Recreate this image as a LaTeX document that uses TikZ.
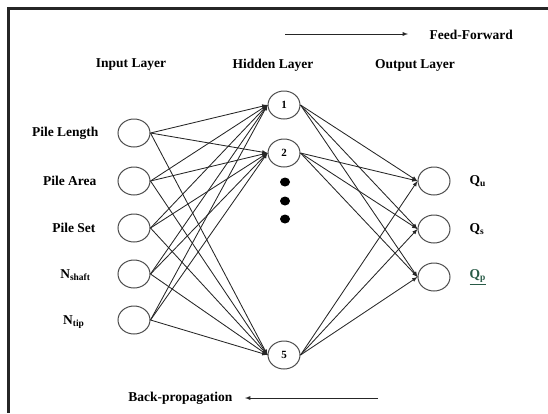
\documentclass[tikz,border=0pt]{standalone}
\usepackage{fontspec}
\setmainfont{Liberation Serif}
\usetikzlibrary{arrows,positioning,shapes.geometric}
\definecolor{qpgreen}{RGB}{40,90,70}

\begin{document}
\begin{tikzpicture}[
    x=1pt, y=-1pt, font=\fontsize{13.5}{15}\selectfont\bfseries,
    unit/.style={ellipse, draw=black!70, line width=1pt,
      minimum width=32pt, minimum height=28pt, inner sep=0pt},
    dot/.style={ellipse, fill=black, minimum width=10pt,
      minimum height=9pt, inner sep=0pt},
    link/.style={-latex, draw=black!85, line width=0.85pt}]

    \useasboundingbox (0,0) rectangle (548,413);

    % frame
    \draw[line width=3pt, black!85] (548,8) -- (8,8) -- (8,413);

    % layer titles
    \node (ti) at (131,65) {Input Layer};
    \node (th) at (273,65) {Hidden Layer};
    \node (to) at (415,65) {Output Layer};

    % vertices

    \node[unit] (10) at (134,133) {};
    \node[unit] (11) at (134,181) {};
    \node[unit] (12) at (134,228) {};
    \node[unit] (13) at (134,274) {};
    \node[unit] (14) at (134,320) {};

    \node[anchor=east] (l10) at (102,133) {Pile Length};
    \node[anchor=east] (l11) at (100,181) {Pile Area};
    \node[anchor=east] (l12) at (99,228) {Pile Set};
    \node[anchor=east] (l13) at (94,275) {N\textsubscript{shaft}};
    \node[anchor=east] (l14) at (88,322) {N\textsubscript{tip}};

    \node[unit, font=\fontsize{11}{13}\selectfont\bfseries] (20) at (284,105) {1};
    \node[unit, font=\fontsize{11}{13}\selectfont\bfseries] (21) at (284,153) {2};
    \node[unit, font=\fontsize{11}{13}\selectfont\bfseries] (25) at (284,355) {5};

    \node[dot] (d1) at (285,182) {};
    \node[dot] (d2) at (285,201) {};
    \node[dot] (d3) at (285,219) {};

    \node[unit] (30) at (434,181) {};
    \node[unit] (31) at (434,229) {};
    \node[unit] (32) at (434,277) {};

    \node[anchor=west] (l30) at (466,181) {Q\textsubscript{u}};
    \node[anchor=west] (l31) at (466,229) {Q\textsubscript{s}};
    \node[anchor=west, text=qpgreen] (l32) at (466,277) {\underline{Q\textsubscript{p}}};

    % edges

    \draw[link] (10.east) to (20.west);
    \draw[link] (10.east) to (21.west);
    \draw[link] (10.east) to (25.west);
    \draw[link] (11.east) to (20.west);
    \draw[link] (11.east) to (21.west);
    \draw[link] (11.east) to (25.west);
    \draw[link] (12.east) to (20.west);
    \draw[link] (12.east) to (21.west);
    \draw[link] (12.east) to (25.west);
    \draw[link] (13.east) to (20.west);
    \draw[link] (13.east) to (21.west);
    \draw[link] (13.east) to (25.west);
    \draw[link] (14.east) to (20.west);
    \draw[link] (14.east) to (21.west);
    \draw[link] (14.east) to (25.west);

    \draw[link] (20.east) to (30.west);
    \draw[link] (20.east) to (31.west);
    \draw[link] (20.east) to (32.west);
    \draw[link] (21.east) to (30.west);
    \draw[link] (21.east) to (31.west);
    \draw[link] (21.east) to (32.west);
    \draw[link] (25.east) to (30.west);
    \draw[link] (25.east) to (31.west);
    \draw[link] (25.east) to (32.west);

    % direction arrows

    \coordinate (ffs) at (285,34);
    \node[anchor=west] (ff) at (426,35) {Feed-Forward};
    \draw[link, shorten >=18pt] (ffs) to (ff.west |- ffs);

    \coordinate (bps) at (378,398);
    \node[anchor=east] (bp) at (236,398) {Back-propagation};
    \draw[link, shorten >=9pt] (bps) to (bp.east |- bps);
  \end{tikzpicture}
\end{document}
